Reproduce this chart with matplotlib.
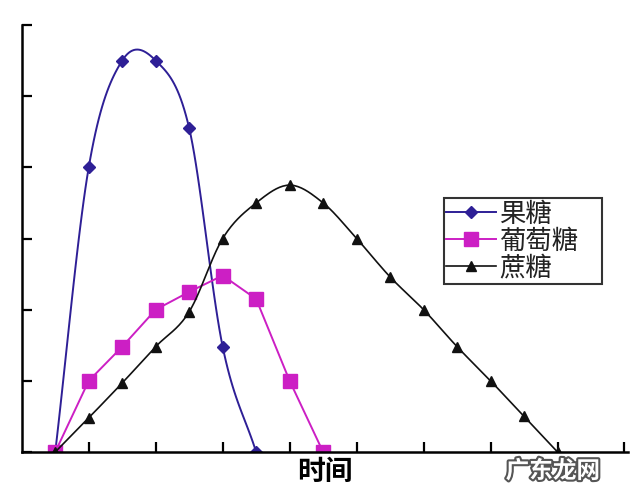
import matplotlib
matplotlib.use("Agg")
import matplotlib.pyplot as plt
import matplotlib.patheffects as pe
import numpy as np

plt.rcParams["font.family"] = ["Noto Sans CJK SC", "DejaVu Sans"]

# data (x in half-tick steps, y in tick units)
fructose_x = [1, 2, 3, 4, 5, 6, 7]
fructose_y = [0, 4.0, 5.5, 5.5, 4.55, 1.48, 0]

glucose_x = [1, 2, 3, 4, 5, 6, 7, 8, 9]
glucose_y = [0, 1.0, 1.48, 2.0, 2.25, 2.48, 2.15, 1.0, 0]

sucrose_x = list(range(1, 17))
sucrose_y = [0, 0.48, 0.97, 1.48, 1.97, 3.0, 3.5, 3.75, 3.5, 3.0, 2.46, 2.0, 1.48, 1.0, 0.5, 0]

labels = ["果糖", "葡萄糖", "蔗糖"]
xlabel = "时间"

FRUCT_C = "#2e1f96"
GLUC_C = "#cc1fc4"
SUCR_C = "#111111"


def smooth(xs, ys, n=20):
    """Catmull-Rom curve through the points, for drawing the line only."""
    p = np.column_stack([xs, ys]).astype(float)
    p = np.vstack([2 * p[0] - p[1], p, 2 * p[-1] - p[-2]])
    t = np.linspace(0, 1, n, endpoint=False)[:, None]
    out = []
    for i in range(1, len(p) - 2):
        p0, p1, p2, p3 = p[i - 1], p[i], p[i + 1], p[i + 2]
        seg = 0.5 * ((2 * p1) + (-p0 + p2) * t + (2 * p0 - 5 * p1 + 4 * p2 - p3) * t ** 2
                     + (-p0 + 3 * p1 - 3 * p2 + p3) * t ** 3)
        out.append(seg)
    out.append(p[-2][None, :])
    out = np.vstack(out)
    return out[:, 0], out[:, 1]


fig = plt.figure(figsize=(6.4, 5.0), dpi=100)
ax = fig.add_axes([0.034, 0.096, 0.947, 0.854])

sx, sy = smooth(fructose_x, fructose_y)
ax.plot(sx, sy, color=FRUCT_C, lw=1.4)
ax.plot(fructose_x, fructose_y, ls="none", marker="D", ms=6, color=FRUCT_C)

ax.plot(glucose_x, glucose_y, color=GLUC_C, lw=1.4, marker="s", ms=10)

sx, sy = smooth(sucrose_x, sucrose_y)
ax.plot(sx, sy, color=SUCR_C, lw=1.2)
ax.plot(sucrose_x, sucrose_y, ls="none", marker="^", ms=7, color=SUCR_C)

# legend handles combining line + marker
h1, = ax.plot([], [], color=FRUCT_C, lw=1.4, marker="D", ms=6)
h2, = ax.plot([], [], color=GLUC_C, lw=1.4, marker="s", ms=10)
h3, = ax.plot([], [], color=SUCR_C, lw=1.2, marker="^", ms=7)
leg = ax.legend([h1, h2, h3], labels, loc="upper left",
                bbox_to_anchor=(0.696, 0.595, 0.262, 0.0), mode="expand",
                fontsize=19, frameon=True, fancybox=False, edgecolor="black",
                labelspacing=0.0, handlelength=1.9, handletextpad=0.1,
                borderpad=0.1, borderaxespad=0)
leg.get_frame().set_linewidth(1.5)
for txt in leg.get_texts():
    txt.set_color("#222222")

ax.set_xlim(0, 18.1)
ax.set_ylim(0, 6)
ax.set_xticks(np.arange(2, 19, 2))
ax.set_yticks(np.arange(0, 7, 1))
ax.tick_params(direction="in", length=7, width=1.6, labelbottom=False, labelleft=False)
ax.spines["top"].set_visible(False)
ax.spines["right"].set_visible(False)
ax.spines["left"].set_linewidth(1.8)
ax.spines["bottom"].set_linewidth(1.8)

ax.set_xlabel(xlabel, fontsize=20, fontweight="bold", labelpad=4)

# watermark
fig.text(0.79, 0.058, "广东龙网", fontsize=17, fontweight="bold", style="italic",
         color="white", ha="left", va="center",
         path_effects=[pe.withStroke(linewidth=3, foreground="#555555")])

fig.savefig("out.png", dpi=100)
